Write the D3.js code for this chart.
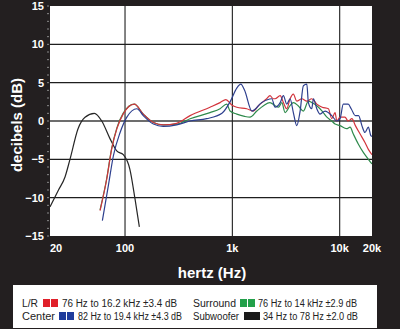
<!DOCTYPE html>
<html>
<head>
<meta charset="utf-8">
<script src="https://cdn.jsdelivr.net/npm/d3@7"></script>
<style>
  html, body { margin: 0; padding: 0; background: #231f20; }
  svg { display: block; }
</style>
</head>
<body>
<svg id="chart" width="400" height="329"></svg>
<script>
// frequency response, [Hz, dB]
var lrData = [[58.5,-11.7],[67.5,-7.6],[75,-3.7],[84,-1.0],[96,0.9],[122,2.2],[148,0.9],[184,-0.2],[227,-0.5],[303,-0.3],[404,0.7],[619,1.8],[768,2.4],[870,2.8],[987,2.1],[1100,1.8],[1360,1.6],[1570,1.3],[1750,2.0],[2090,2.9],[2240,3.3],[2410,2.9],[2500,2.9],[2790,3.3],[2990,2.4],[3210,1.6],[3450,2.9],[3700,3.5],[3980,2.6],[4440,2.9],[4940,2.6],[5490,2.9],[6120,2.2],[6860,1.8],[7850,1.6],[8440,0.3],[9060,1.1],[9400,0.0],[10080,0.5],[11200,0.5],[12000,0.0],[13000,0.3],[14000,-0.6],[15500,-1.7],[17200,-2.8],[18500,-3.7],[20000,-4.4]];
var surroundData = [[58.5,-11.6],[67.5,-7.5],[75,-3.6],[84,-0.9],[96,1.0],[122,2.2],[148,0.9],[184,-0.2],[227,-0.5],[303,-0.4],[404,0.3],[619,1.1],[768,1.6],[886,2.2],[952,1.3],[1100,0.9],[1300,0.6],[1460,0.5],[1690,1.3],[1950,2.0],[2240,2.4],[2500,2.0],[2690,1.8],[2890,2.4],[3100,1.1],[3450,2.0],[3700,2.4],[4100,2.0],[4590,1.3],[5110,2.6],[5490,2.4],[6120,2.0],[6860,1.3],[7600,0.5],[8440,0.0],[9060,-0.4],[10080,-0.6],[11600,-1.0],[12500,-0.8],[13400,-1.7],[14900,-3.0],[16600,-4.1],[18500,-5.0],[20000,-5.6]];
var centerData = [[61.5,-13.0],[70,-8.4],[78,-4.5],[90,-1.5],[104,0.5],[129,1.6],[148,0.7],[184,-0.4],[227,-0.7],[303,-0.5],[404,0.0],[577,0.3],[800,1.0],[952,2.5],[1100,4.3],[1200,4.8],[1300,4.0],[1520,1.3],[1880,2.4],[2330,2.9],[2500,1.8],[2790,2.4],[2990,3.3],[3210,2.2],[3450,2.9],[3700,1.1],[3980,-0.6],[4280,1.3],[4590,4.6],[4940,4.8],[5110,2.4],[5490,1.6],[5690,2.9],[6120,1.6],[6560,0.9],[7310,1.3],[8440,0.7],[9400,0.0],[10080,0.3],[10800,2.2],[12000,2.2],[12800,1.6],[14000,0.7],[15000,0.7],[16100,-0.6],[17200,-1.5],[18500,-0.8],[19500,-1.9],[20000,-2.0]];
var subData = [[20,-11.2],[24,-9.0],[27.6,-7.3],[30.7,-5.0],[36.5,-1.0],[42.4,0.5],[51.8,1.0],[60.7,0.0],[72.4,-2.3],[83.7,-3.9],[96.4,-4.4],[111,-6.3],[124,-10.2],[136,-13.8]];

var xTicks = [20, 100, 1000, 10000, 20000];
var xTickLabels = ["20", "100", "1k", "10k", "20k"];
var xGrid = [100, 1000, 10000];
var yTicks = [15, 10, 5, 0, -5, -10, -15];

var legendNames = ["L/R", "Center", "Surround", "Subwoofer"];
var legendRanges = ["76 Hz to 16.2 kHz \u00b13.4 dB", "82 Hz to 19.4 kHz \u00b14.3 dB",
                    "76 Hz to 14 kHz \u00b12.9 dB", "34 Hz to 78 Hz \u00b12.0 dB"];

var svg = d3.select("#chart");
var plot = { left: 50, right: 372, top: 6, bottom: 236 };

var x = d3.scaleLog().domain([20, 20000]).range([plot.left, plot.right]);
var y = d3.scaleLinear().domain([-15, 15]).range([plot.bottom, plot.top]);

svg.append("rect").attr("width", 400).attr("height", 329).attr("fill", "#231f20");

svg.append("defs").append("clipPath").attr("id", "clip")
    .append("rect")
    .attr("x", plot.left).attr("y", plot.top)
    .attr("width", plot.right - plot.left).attr("height", plot.bottom - plot.top);

svg.append("rect")
    .attr("x", plot.left).attr("y", plot.top)
    .attr("width", plot.right - plot.left).attr("height", plot.bottom - plot.top)
    .attr("fill", "#fff");

// grid
svg.append("g").selectAll("line")
    .data(yTicks.filter(d => d > -15 && d < 15))
    .enter().append("line")
    .attr("x1", plot.left).attr("x2", plot.right)
    .attr("y1", d => y(d)).attr("y2", d => y(d))
    .attr("stroke", d => d === 0 ? "#6d6d6d" : "#1e1e1e")
    .attr("stroke-width", d => d === 0 ? 2 : 1.1);

svg.append("g").selectAll("line")
    .data(xGrid)
    .enter().append("line")
    .attr("x1", d => x(d)).attr("x2", d => x(d))
    .attr("y1", plot.top).attr("y2", plot.bottom)
    .attr("stroke", "#1e1e1e")
    .attr("stroke-width", 1.1);

// minor ticks on left edge
svg.append("g").selectAll("line")
    .data(d3.range(-15, 16))
    .enter().append("line")
    .attr("x1", plot.left - 3).attr("x2", plot.left - 1)
    .attr("y1", d => y(d)).attr("y2", d => y(d))
    .attr("stroke", "#8a8a8a").attr("stroke-width", 1);

// y labels
svg.append("g").selectAll("text")
    .data(yTicks)
    .enter().append("text")
    .attr("x", 44).attr("y", d => y(d) + 4)
    .attr("text-anchor", "end")
    .attr("fill", "#fff")
    .style("font", "bold 11px 'Liberation Sans', Arial, sans-serif")
    .text(d => d < 0 ? "\u2212" + Math.abs(d) : d);

// x labels
svg.append("g").selectAll("text")
    .data(xTicks)
    .enter().append("text")
    .attr("x", d => x(d))
    .attr("y", 252)
    .attr("text-anchor", (d, i) => i === 0 ? "start" : "middle")
    .attr("fill", "#fff")
    .style("font", "bold 11px 'Liberation Sans', Arial, sans-serif")
    .text((d, i) => xTickLabels[i]);

svg.append("text")
    .attr("x", 212).attr("y", 278)
    .attr("text-anchor", "middle")
    .attr("fill", "#fff")
    .style("font", "bold 15px 'Liberation Sans', Arial, sans-serif")
    .text("hertz (Hz)");

svg.append("text")
    .attr("transform", "translate(22,125) rotate(-90)")
    .attr("text-anchor", "middle")
    .attr("fill", "#fff")
    .style("font", "bold 15px 'Liberation Sans', Arial, sans-serif")
    .text("decibels (dB)");

// curves
var line = d3.line()
    .x(d => x(d[0]))
    .y(d => y(d[1]))
    .curve(d3.curveMonotoneX);

var series = [
    { data: subData, color: "#262626" },
    { data: surroundData, color: "#2f8a4c" },
    { data: lrData, color: "#d2343c" },
    { data: centerData, color: "#2d3f8e" }
];

svg.append("g").attr("clip-path", "url(#clip)")
    .selectAll("path")
    .data(series)
    .enter().append("path")
    .attr("d", d => line(d.data))
    .attr("fill", "none")
    .attr("stroke", d => d.color)
    .attr("stroke-width", 1.2)
    .attr("stroke-linejoin", "round");

// legend
svg.append("rect")
    .attr("x", 13).attr("y", 285).attr("width", 364).attr("height", 43)
    .attr("fill", "#fff");

var legendColors = ["#e0202a", "#1f3c9c", "#22a04a", "#1a1a1a"];
// label x / label width, swatch x, range text x / width, baseline
var legendPos = [
    { lx: 22, lw: 16, sx: 43, tx: 62, tw: 115, y: 307 },
    { lx: 22, lw: 33, sx: 59, tx: 78, tw: 104, y: 320 },
    { lx: 193, lw: 43, sx: 240, tx: 258, tw: 99, y: 307 },
    { lx: 193, lw: 46, sx: 244, tx: 263, tw: 95, y: 320 }
];

var leg = svg.append("g")
    .selectAll("g")
    .data(legendNames)
    .enter().append("g");

leg.append("text")
    .attr("x", (d, i) => legendPos[i].lx)
    .attr("y", (d, i) => legendPos[i].y)
    .attr("textLength", (d, i) => legendPos[i].lw)
    .attr("lengthAdjust", "spacingAndGlyphs")
    .attr("fill", "#222")
    .style("font", "10px 'Liberation Sans', Arial, sans-serif")
    .text(d => d);

leg.each(function (d, i) {
    var g = d3.select(this);
    [0, 8].forEach(off => {
        g.append("rect")
            .attr("x", legendPos[i].sx + off)
            .attr("y", legendPos[i].y - 8)
            .attr("width", i === 3 ? 8 : 7)
            .attr("height", 8)
            .attr("fill", legendColors[i]);
    });
});

leg.append("text")
    .attr("x", (d, i) => legendPos[i].tx)
    .attr("y", (d, i) => legendPos[i].y)
    .attr("textLength", (d, i) => legendPos[i].tw)
    .attr("lengthAdjust", "spacingAndGlyphs")
    .attr("fill", "#222")
    .style("font", "10px 'Liberation Sans', Arial, sans-serif")
    .text((d, i) => legendRanges[i]);
</script>
</body>
</html>
